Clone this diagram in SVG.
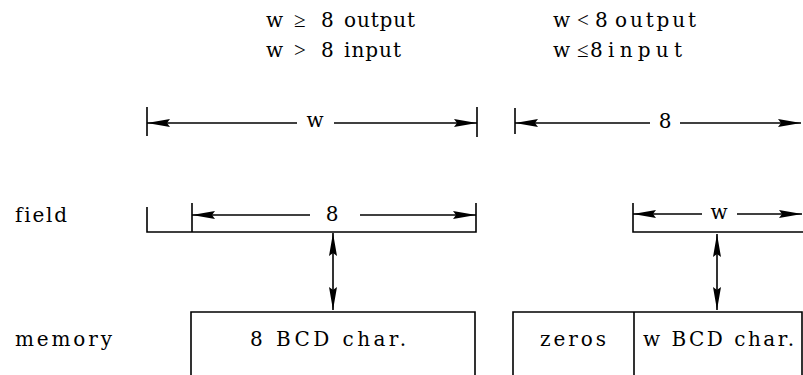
<svg xmlns="http://www.w3.org/2000/svg" width="803" height="375" viewBox="0 0 803 375">
  <defs>
    <marker id="head" markerUnits="userSpaceOnUse" markerWidth="24" markerHeight="10" viewBox="0 0 24 10" refX="23" refY="5" orient="auto-start-reverse">
      <path d="M0,1 L23,5 L0,9 L3,5 z" fill="#000"/>
    </marker>
    <style>
      .ln { stroke: #000; stroke-width: 1.6; fill: none; }
      .arr { stroke: #000; stroke-width: 1.6; fill: none; marker-end: url(#head); }
      .arr2 { stroke: #000; stroke-width: 1.6; fill: none; marker-start: url(#head); marker-end: url(#head); }
      .tx { font-family: "DejaVu Serif", "Liberation Serif", serif; font-size: 20px; fill: #000; font-variant-ligatures: none; }
      .sym { font-family: "Liberation Serif", "DejaVu Serif", serif; font-size: 21px; }
      .m { text-anchor: middle; }
    </style>
  </defs>
  <rect width="803" height="375" fill="#fff"/>

  <g class="tx">
  <!-- case headings -->
  <g id="case-left">
    <text x="266" y="27">w</text>
    <text class="sym" x="294" y="27">≥</text>
    <text x="321" y="27">8</text>
    <text x="344" y="27" textLength="71" lengthAdjust="spacing">output</text>
    <text x="266" y="57">w</text>
    <text class="sym" x="294" y="57">&gt;</text>
    <text x="321" y="57">8</text>
    <text x="344" y="57" textLength="57" lengthAdjust="spacing">input</text>
  </g>
  <g id="case-right">
    <text x="553" y="27">w</text>
    <text class="sym" x="577" y="27">&lt;</text>
    <text x="595" y="27">8</text>
    <text x="615" y="27" textLength="81" lengthAdjust="spacing">output</text>
    <text x="553" y="57">w</text>
    <text class="sym" x="577" y="57">≤</text>
    <text x="590" y="57">8</text>
    <text x="608" y="57" textLength="74" lengthAdjust="spacing">input</text>
  </g>

  <!-- overall width dimensions -->
  <g id="dim-w">
    <path class="ln" d="M147,107 V136 M477,107 V137"/>
    <path class="arr" d="M297,123 H147"/>
    <path class="arr" d="M334,123 H477"/>
    <text class="m" x="315" y="127">w</text>
  </g>
  <g id="dim-8">
    <path class="ln" d="M515,108 V134"/>
    <path class="arr" d="M650,123 H515"/>
    <path class="arr" d="M680,123 H801"/>
    <text class="m" x="665" y="128">8</text>
  </g>

  <!-- row labels -->
  <g id="label-field">
    <text x="15" y="222" textLength="52" lengthAdjust="spacing">field</text>
  </g>
  <g id="label-memory">
    <text x="15" y="346" textLength="97" lengthAdjust="spacing">memory</text>
  </g>

  <!-- field brackets -->
  <g id="field-left">
    <path class="ln" d="M147,207 V232 H476 V203 M192,203 V232"/>
    <path class="arr" d="M310,215 H192"/>
    <path class="arr" d="M360,215 H476"/>
    <text class="m" x="332" y="221">8</text>
  </g>
  <g id="field-right">
    <path class="ln" d="M633,203 V232 H803"/>
    <path class="arr" d="M702,214 H633"/>
    <path class="arr" d="M737,214 H802"/>
    <text class="m" x="719" y="219">w</text>
  </g>

  <!-- memory cells -->
  <g id="memory-left">
    <path class="ln" d="M191,375 V312 H475 V375"/>
    <text x="250" y="346" textLength="156" lengthAdjust="spacing">8 BCD char.</text>
  </g>
  <g id="memory-right">
    <path class="ln" d="M513,375 V312 H802 V375 M634,312 V375"/>
    <text x="540" y="346" textLength="66" lengthAdjust="spacing">zeros</text>
    <text x="643" y="346" textLength="151" lengthAdjust="spacing">w BCD char.</text>
  </g>
  </g>

  <!-- transfers between field and memory -->
  <g id="connectors">
    <path class="arr2" d="M333,233 V310"/>
    <path class="arr2" d="M717,234 V310"/>
  </g>
</svg>
